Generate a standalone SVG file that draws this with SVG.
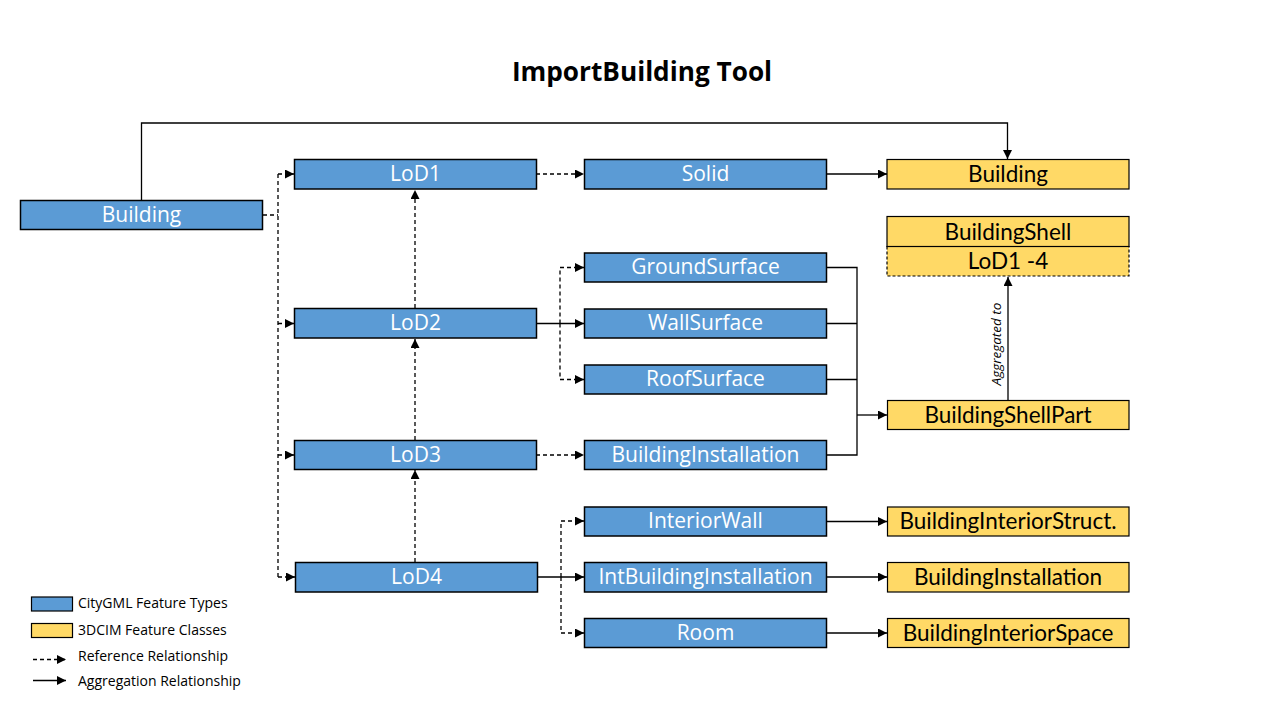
<svg xmlns="http://www.w3.org/2000/svg" width="1280" height="720" viewBox="0 0 1280 720">
<defs>
<marker id="ah" viewBox="0 0 10 10" refX="10" refY="5" markerWidth="9" markerHeight="9" markerUnits="userSpaceOnUse" orient="auto">
<path d="M0,0 L10,5 L0,10 z" fill="#000"/>
</marker>
<style>
.blue{fill:#5B9BD5;stroke:#000;stroke-width:1.5}
.yel{fill:#FFD966;stroke:#000;stroke-width:1.2}
.yeld{fill:#FFD966;stroke:#000;stroke-width:1.2;stroke-dasharray:3,2}
.bt{font-family:"Open Sans","Noto Sans",sans-serif;font-size:21px;fill:#fff;text-anchor:middle}
.yt{font-family:Lato,"Open Sans",sans-serif;font-size:22.5px;fill:#000;text-anchor:middle}
.solid{fill:none;stroke:#000;stroke-width:1.3}
.dash{fill:none;stroke:#000;stroke-width:1.3;stroke-dasharray:4,3}
.arr{marker-end:url(#ah)}
.lg{font-family:"Open Sans","Noto Sans",sans-serif;font-size:14px;fill:#000}
</style>
</defs>
<rect width="1280" height="720" fill="#fff"/>
<text x="642" y="81" font-family="'Open Sans','Noto Sans',sans-serif" font-weight="bold" font-size="26.2" text-anchor="middle" fill="#000">ImportBuilding Tool</text>

<g id="connectors">
<path class="solid arr" d="M141.5,200 V123 H1007.5 V159"/>
<path class="dash" d="M263,215 H278"/>
<path class="dash" d="M278,174 V577"/>
<path class="dash arr" d="M278,174 H294"/>
<path class="dash arr" d="M278,323.5 H294"/>
<path class="dash arr" d="M278,455 H294"/>
<path class="dash arr" d="M278,577 H295"/>
<path class="dash arr" d="M415,562 V470"/>
<path class="dash arr" d="M415,440 V339"/>
<path class="dash arr" d="M415,308 V190"/>
<path class="dash arr" d="M536,174 H584"/>
<path class="solid arr" d="M826,174 H887"/>
<path class="solid arr" d="M536,323.5 H584"/>
<path class="dash arr" d="M560,323.5 V267.5 H584"/>
<path class="dash arr" d="M560,323.5 V379.5 H584"/>
<path class="solid" d="M826,267.5 H857 V455 H826 M826,323.5 H857 M826,379.5 H857"/>
<path class="solid arr" d="M857,415 H887"/>
<path class="dash arr" d="M536,455 H584"/>
<path class="solid arr" d="M537,577 H584"/>
<path class="dash arr" d="M561,577 V521 H584"/>
<path class="dash arr" d="M561,577 V633 H584"/>
<path class="solid arr" d="M826,521.5 H887"/>
<path class="solid arr" d="M826,577 H887"/>
<path class="solid arr" d="M826,633 H887"/>
<path class="solid arr" d="M1008,400 V277"/>
<text transform="translate(1001,344) rotate(-90)" font-family="'Open Sans','Noto Sans',sans-serif" font-style="italic" font-size="13.5" text-anchor="middle" fill="#000">Aggregated to</text>
</g>

<g id="n-building"><rect class="blue" x="20.5" y="200.5" width="242" height="29"/><text class="bt" x="141.5" y="222">Building</text></g>
<g id="n-lod1"><rect class="blue" x="294.5" y="159.5" width="242" height="29.5"/><text class="bt" x="415.5" y="181">LoD1</text></g>
<g id="n-lod2"><rect class="blue" x="294.5" y="308.5" width="242" height="29.5"/><text class="bt" x="415.5" y="330">LoD2</text></g>
<g id="n-lod3"><rect class="blue" x="294.5" y="440.5" width="242" height="29"/><text class="bt" x="415.5" y="462">LoD3</text></g>
<g id="n-lod4"><rect class="blue" x="295.5" y="562.5" width="242" height="29.5"/><text class="bt" x="416.5" y="584">LoD4</text></g>

<g id="n-solid"><rect class="blue" x="584.5" y="159.5" width="242" height="29.5"/><text class="bt" x="705.5" y="181">Solid</text></g>
<g id="n-ground"><rect class="blue" x="584.5" y="253" width="242" height="29"/><text class="bt" x="705.5" y="274">GroundSurface</text></g>
<g id="n-wall"><rect class="blue" x="584.5" y="309" width="242" height="29"/><text class="bt" x="705.5" y="330">WallSurface</text></g>
<g id="n-roof"><rect class="blue" x="584.5" y="365" width="242" height="29"/><text class="bt" x="705.5" y="386">RoofSurface</text></g>
<g id="n-bldinst"><rect class="blue" x="584.5" y="440.5" width="242" height="29"/><text class="bt" x="705.5" y="462">BuildingInstallation</text></g>
<g id="n-intwall"><rect class="blue" x="584.5" y="507" width="242" height="29"/><text class="bt" x="705.5" y="528">InteriorWall</text></g>
<g id="n-intbldinst"><rect class="blue" x="584.5" y="562.5" width="242" height="29.5"/><text class="bt" x="705.5" y="584">IntBuildingInstallation</text></g>
<g id="n-room"><rect class="blue" x="584.5" y="618.5" width="242" height="29"/><text class="bt" x="705.5" y="640">Room</text></g>

<g id="y-building"><rect class="yel" x="887" y="159.5" width="242" height="29.5"/><text class="yt" x="1008" y="182">Building</text></g>
<g id="y-shell"><rect class="yeld" x="887" y="246.5" width="242" height="29.5"/><rect class="yel" x="887" y="216.5" width="242" height="30"/><text class="yt" x="1008" y="239.5">BuildingShell</text><text class="yt" x="1008" y="269">LoD1 -4</text></g>
<g id="y-shellpart"><rect class="yel" x="887.5" y="400.5" width="241.5" height="29"/><text class="yt" x="1008" y="423">BuildingShellPart</text></g>
<g id="y-intstruct"><rect class="yel" x="887.5" y="507" width="241.5" height="29"/><text class="yt" x="1008" y="529">BuildingInteriorStruct.</text></g>
<g id="y-bldinst"><rect class="yel" x="887.5" y="562.5" width="241.5" height="29.5"/><text class="yt" x="1008" y="585">BuildingInstallation</text></g>
<g id="y-intspace"><rect class="yel" x="887.5" y="618.5" width="241.5" height="29"/><text class="yt" x="1008" y="641">BuildingInteriorSpace</text></g>

<g id="legend">
<rect x="31.5" y="597" width="41" height="14" fill="#5B9BD5" stroke="#000" stroke-width="1.2"/>
<text class="lg" x="78" y="608">CityGML Feature Types</text>
<rect x="31.5" y="623.5" width="41" height="14" fill="#FFD966" stroke="#000" stroke-width="1.2"/>
<text class="lg" x="78" y="635">3DCIM Feature Classes</text>
<path class="dash arr" d="M33,659.5 H66" stroke-dasharray="3,2.5"/>
<text class="lg" x="78" y="661">Reference Relationship</text>
<path class="solid arr" d="M33,680.5 H66"/>
<text class="lg" x="78" y="686">Aggregation Relationship</text>
</g>
</svg>
